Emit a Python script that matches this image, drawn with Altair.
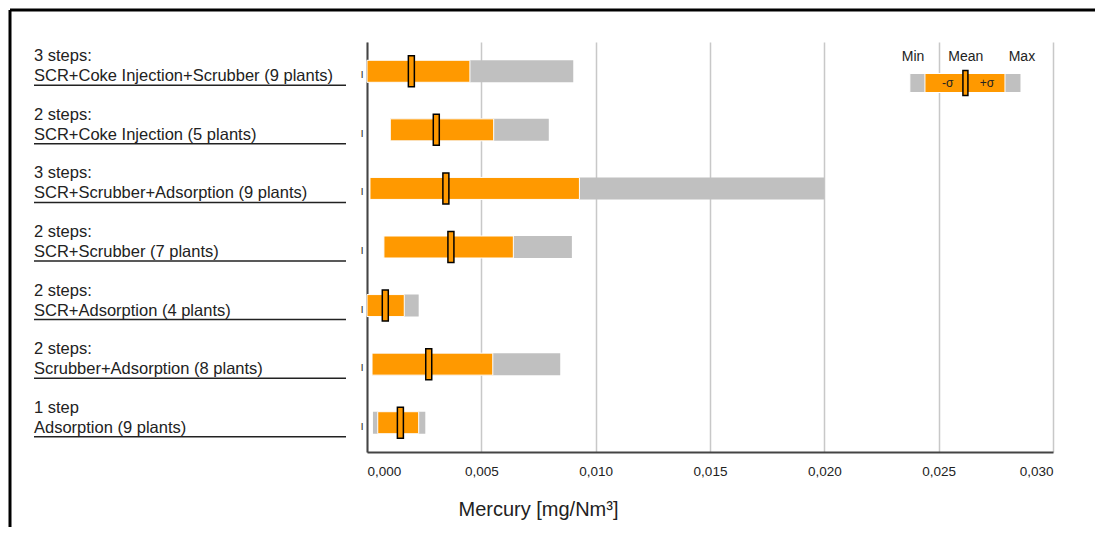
import altair as alt
import pandas as pd

# ---- data ----
line1 = ["3 steps:", "2 steps:", "3 steps:", "2 steps:", "2 steps:", "2 steps:", "1 step"]
line2 = [
    "SCR+Coke Injection+Scrubber (9 plants)",
    "SCR+Coke Injection (5 plants)",
    "SCR+Scrubber+Adsorption (9 plants)",
    "SCR+Scrubber (7 plants)",
    "SCR+Adsorption (4 plants)",
    "Scrubber+Adsorption (8 plants)",
    "Adsorption (9 plants)",
]
v_min = [0.0, 0.00102, 0.00013, 0.00074, 0.0, 0.00022, 0.00026]
v_lo = [0.0, 0.00102, 0.00013, 0.00074, 0.0, 0.00022, 0.00047]
v_mean = [0.00194, 0.00303, 0.00345, 0.00367, 0.00080, 0.00270, 0.00146]
v_hi = [0.00450, 0.00554, 0.00929, 0.00640, 0.00163, 0.00550, 0.00226]
v_max = [0.00902, 0.00795, 0.02000, 0.00896, 0.00226, 0.00845, 0.00255]

x_ticks = [0.0, 0.005, 0.010, 0.015, 0.020, 0.025, 0.030]

# legend sample (in data units)
leg_min, leg_lo, leg_mean, leg_hi, leg_max = 0.02374, 0.02440, 0.02617, 0.02790, 0.02860
leg_words = ["Min", "Mean", "Max"]
leg_word_x = [0.02388, 0.02619, 0.02864]
leg_sig = ["-σ", "+σ"]
leg_sig_x = [0.02540, 0.02711]

ORANGE = "#ff9900"
GRAY = "#c0c0c0"
FONT = "Liberation Sans"

rows = [f"r{i}" for i in range(len(line1))]
df = pd.DataFrame({
    "row": rows,
    "label": [a + "\n" + b for a, b in zip(line1, line2)],
    "vmin": v_min, "lo": v_lo, "mean": v_mean, "hi": v_hi, "vmax": v_max,
})

yenc = alt.Y("row:N", sort=rows, title=None,
             scale=alt.Scale(paddingInner=0, paddingOuter=0),
             axis=alt.Axis(labels=False, ticks=False, grid=False, domain=True,
                           domainColor="#444", domainWidth=2))

xaxis = alt.Axis(values=x_ticks, grid=True, gridColor="#c8c8c8", gridWidth=1.5,
                 domainColor="#444", domainWidth=2, ticks=False, labelPadding=12,
                 labelFontSize=13.5, labelColor="#222", labelFont=FONT,
                 labelExpr="replace(format(datum.value, '.3f'), '.', ',')",
                 title="Mercury [mg/Nm³]", titleFontSize=20, titleFontWeight="normal",
                 titleFont=FONT, titleColor="#222", titleX=171, titleY=57,
                 titleAlign="center", titleBaseline="middle")
xscale = alt.Scale(domain=[0, 0.03], nice=False, zero=True)

base = alt.Chart(df)

gray = base.mark_bar(height=22, color=GRAY).encode(
    y=yenc, x=alt.X("vmin:Q", scale=xscale, axis=xaxis), x2="vmax:Q")
orange = base.mark_bar(height=22, color=ORANGE, stroke="white", strokeWidth=1).encode(
    y=alt.Y("row:N", sort=rows), x=alt.X("lo:Q"), x2="hi:Q")
meanm = base.mark_tick(thickness=6, size=31, fill=ORANGE, stroke="black",
                       strokeWidth=1.5, opacity=1).encode(
    y=alt.Y("row:N", sort=rows), x=alt.X("mean:Q"))
labels = base.mark_text(align="left", baseline="middle", lineBreak="\n", lineHeight=20,
                        fontSize=16.5, font=FONT, color="#222", dy=-15).encode(
    y=alt.Y("row:N", sort=rows), x=alt.value(-333), text="label:N")
underline = base.mark_rule(color="#222", strokeWidth=1.5, yOffset=14).encode(
    y=alt.Y("row:N", sort=rows), x=alt.value(-333), x2=alt.value(-21))
smallmarks = base.mark_text(text="|", fontSize=8, fontWeight="bold", color="#333",
                            yOffset=3).encode(
    y=alt.Y("row:N", sort=rows), x=alt.value(-5))

# legend
leg_bar = pd.DataFrame({"a": [leg_min, leg_lo], "b": [leg_max, leg_hi], "c": [GRAY, ORANGE]})
leg_bars = alt.Chart(leg_bar).mark_bar(height=19, stroke="white", strokeWidth=1).encode(
    x="a:Q", x2="b:Q", y=alt.value(41), color=alt.Color("c:N", scale=None))
leg_mean_m = alt.Chart(pd.DataFrame({"m": [leg_mean]})).mark_tick(
    thickness=5, size=25, fill=ORANGE, stroke="black", strokeWidth=1.5, opacity=1,
    orient="vertical").encode(x="m:Q", y=alt.value(41))
leg_txt = alt.Chart(pd.DataFrame({"t": leg_words, "x": leg_word_x})).mark_text(
    fontSize=14, font=FONT, color="#222", baseline="middle").encode(
    x="x:Q", y=alt.value(15), text="t:N")
leg_sig_t = alt.Chart(pd.DataFrame({"t": leg_sig, "x": leg_sig_x})).mark_text(
    fontSize=12, font=FONT, color="#222", baseline="middle").encode(
    x="x:Q", y=alt.value(41), text="t:N")

# frame
one = pd.DataFrame({"k": [0]})
top_rule = alt.Chart(one).mark_rule(color="black", strokeWidth=3).encode(
    x=alt.value(-357), x2=alt.value(728), y=alt.value(-32))
left_rule = alt.Chart(one).mark_rule(color="black", strokeWidth=3).encode(
    x=alt.value(-357), y=alt.value(-32), y2=alt.value(485))

chart = alt.layer(
    gray, orange, meanm, labels, underline, smallmarks,
    leg_bars, leg_mean_m, leg_txt, leg_sig_t, top_rule, left_rule
).properties(width=686, height=410, padding=0).configure_view(stroke=None)

chart.save("out.html", embed_options={"renderer": "svg", "actions": False})
